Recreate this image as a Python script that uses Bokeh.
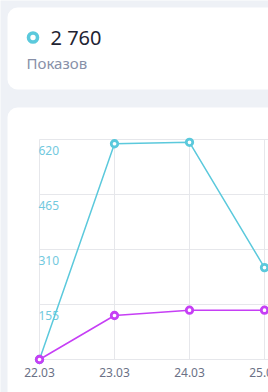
from bokeh.plotting import figure
from bokeh.models import Range1d, BoxAnnotation, Label, ColumnDataSource
from bokeh.core.properties import value
from bokeh.embed import file_html
from bokeh.resources import INLINE

# ---- data ----
dates = ["22.03", "23.03", "24.03", "25.03"]
shows = [0, 608, 612, 259]
clicks = [0, 124, 139, 139]
y_ticks = [155, 310, 465, 620]
grid_values = [0, 155, 310, 465, 620]
total_label = "2 760"
metric_label = "Показов"

BG = "#eef1f6"
CYAN = "#5bc9dc"
MAG = "#c63ff5"
GRID = "#e6e7eb"
FONT = "Noto Sans"

xs = list(range(len(dates)))
x_end = 3.0533

p = figure(width=268, height=392, output_backend="svg", toolbar_location=None,
           x_range=Range1d(-0.52, x_end), y_range=Range1d(-93.0, 1011.7),
           x_axis_location=None, y_axis_location=None,
           min_border=0)
p.background_fill_color = BG
p.border_fill_color = BG
p.outline_line_color = None
p.xgrid.visible = False
p.ygrid.visible = False

# cards
def box(l, r, t, b, **kw):
    return BoxAnnotation(left=l, right=r, top=t, bottom=b,
                         left_units="canvas", right_units="canvas",
                         top_units="canvas", bottom_units="canvas", **kw)

p.add_layout(box(7, 320, 7, 89, fill_color="white", fill_alpha=1,
                 line_color=None, border_radius=10, level="underlay"))
p.add_layout(box(7, 320, 107, 520, fill_color="white", fill_alpha=1,
                 line_color=None, border_radius=10, level="underlay"))
p.add_layout(box(28, 37, 32.5, 41.5, fill_color="white", fill_alpha=1,
                 line_color=CYAN, line_width=3.6, line_alpha=1,
                 border_radius=5, level="overlay"))

p.add_layout(Label(x=50, y=37, x_units="canvas", y_units="canvas",
                   text=total_label, text_font=FONT, text_font_size="20px",
                   text_color="#1f2433", text_baseline="middle"))
p.add_layout(Label(x=26, y=62, x_units="canvas", y_units="canvas",
                   text=metric_label, text_font=FONT, text_font_size="15px",
                   text_color="#8790a8", text_baseline="middle"))

# grid
p.segment(x0=xs, y0=[grid_values[0]] * len(xs), x1=xs,
          y1=[grid_values[-1]] * len(xs), line_color=GRID, line_width=1)
p.segment(x0=[xs[0]] * len(grid_values), y0=grid_values,
          x1=[x_end] * len(grid_values), y1=grid_values,
          line_color=GRID, line_width=1)

# y labels
p.text(x=[xs[0]] * len(y_ticks), y=y_ticks, text=[str(v) for v in y_ticks],
       text_font=value(FONT), text_font_size="12px", text_color="#72c9de",
       text_align="left", text_baseline="middle", y_offset=11.5, x_offset=-1)

# x labels
p.text(x=xs, y=[grid_values[0]] * len(xs), text=dates,
       text_font=value(FONT), text_font_size="12px", text_color="#6b7186",
       text_align="center", text_baseline="middle", y_offset=13)

# series
src = ColumnDataSource(dict(x=xs, shows=shows, clicks=clicks))
p.line("x", "shows", source=src, line_color=CYAN, line_width=1.5)
p.line("x", "clicks", source=src, line_color=MAG, line_width=1.5)
p.scatter("x", "shows", source=src, size=6.5, fill_color="white",
          line_color=CYAN, line_width=2.8)
p.scatter("x", "clicks", source=src, size=6.5, fill_color="white",
          line_color=MAG, line_width=2.8)

open("out.html", "w").write(file_html(p, INLINE))
